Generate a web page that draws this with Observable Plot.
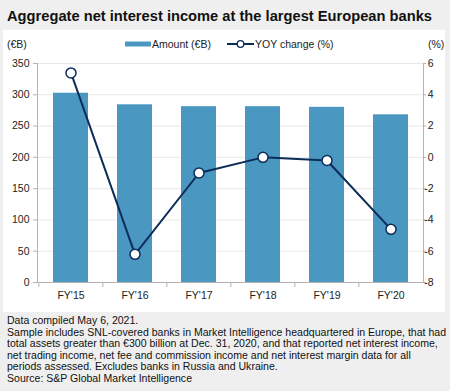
<!DOCTYPE html>
<html><head><meta charset="utf-8">
<script src="https://cdn.jsdelivr.net/npm/d3@7"></script>
<script src="https://cdn.jsdelivr.net/npm/@observablehq/plot@0.6"></script>
<style>
body{margin:0;background:#efefef;width:450px;height:391px;overflow:hidden;font-family:"Liberation Sans",Arial,sans-serif;position:relative}
#title{position:absolute;left:7px;top:8px;font-weight:bold;font-size:15px;line-height:15px;white-space:nowrap;color:#111;transform-origin:0 0}
#panel{position:absolute;left:3px;top:30px;width:442px;height:282px;background:#fff}
.lg{position:absolute;font-size:10.5px;line-height:12px;white-space:nowrap;color:#222}
#notes{position:absolute;left:7px;top:315px;font-size:10.5px;line-height:11.5px;color:#111}
#notes div{white-space:nowrap;transform-origin:0 0}
#chart{position:absolute;left:0;top:0}
</style></head><body>
<div id="title">Aggregate net interest income at the largest European banks</div>
<div id="panel">
  <div id="chart"></div>
  <div class="lg" style="left:4px;top:8px">(€B)</div>
  <div class="lg" style="left:122px;top:8px"><svg width="27" height="12" style="vertical-align:top"><rect x="0" y="3.5" width="26" height="5" fill="#4a97c2"></rect></svg>Amount (€B)</div>
  <div class="lg" style="left:224px;top:8px"><svg width="28" height="12" style="vertical-align:top"><line x1="0" x2="27" y1="6" y2="6" stroke="#0c2c5a" stroke-width="2"></line><circle cx="13.5" cy="6" r="3.3" fill="#fff" stroke="#0c2c5a" stroke-width="1.3"></circle></svg>YOY change (%)</div>
  <div class="lg" style="left:425px;top:8px">(%)</div>
</div>
<div id="notes">
  <div>Data compiled May 6, 2021.</div>
  <div id="wide">Sample includes SNL-covered banks in Market Intelligence headquartered in Europe, that had</div>
  <div>total assets greater than €300 billion at Dec. 31, 2020, and that reported net interest income,</div>
  <div>net trading income, net fee and commission income and net interest margin data for all</div>
  <div>periods assessed. Excludes banks in Russia and Ukraine.</div>
  <div>Source: S&amp;P Global Market Intelligence</div>
</div>
<script>
const years = ["FY'15","FY'16","FY'17","FY'18","FY'19","FY'20"];
const amount = [302.5, 284, 281, 281, 280, 268];
const yoy = [5.4, -6.2, -1.0, 0.0, -0.2, -4.6];
const leftTicks = [0, 50, 100, 150, 200, 250, 300, 350];
const rightTicks = [-8, -6, -4, -2, 0, 2, 4, 6];

const rows = years.map((y, i) => ({year: y, amount: amount[i], yoy: yoy[i]}));
const yoyToY = d3.scaleLinear([-8, 6], [0, 350]);
const W = 442, ML = 34, MR = 22;
const step = (W - ML - MR) / years.length;
const axisColor = "#b3b3b3";

const chart = Plot.plot({
  width: W, height: 282,
  marginLeft: ML, marginRight: MR, marginTop: 33, marginBottom: 30,
  style: {fontFamily: '"Liberation Sans", Arial, sans-serif', fontSize: "10.5px", color: "#222", background: "transparent"},
  x: {domain: years, paddingInner: 0.456, paddingOuter: 0.228, label: null},
  y: {domain: [0, 350], label: null},
  marks: [
    Plot.gridY(leftTicks, {stroke: "#e8e8e8", strokeOpacity: 1}),
    Plot.barY(rows, {x: "year", y: "amount", fill: "#4a97c2"}),
    Plot.ruleY([0], {stroke: axisColor}),
    Plot.frame({anchor: "left", stroke: axisColor}),
    Plot.frame({anchor: "right", stroke: axisColor}),
    Plot.axisY(leftTicks, {anchor: "left", tickSize: 4, tickPadding: 4, stroke: axisColor, label: null}),
    Plot.axisY(rightTicks.map(v => yoyToY(v)), {anchor: "right", tickSize: 2, tickPadding: 8, textAnchor: "end", stroke: axisColor,
      tickFormat: d => String(Math.round(yoyToY.invert(d))), label: null}),
    Plot.axisX(years, {tickSize: 5, dx: -step / 2, tickFormat: () => "", stroke: axisColor, label: null}),
    Plot.axisX(years, {tickSize: 0, tickPadding: 9, label: null}),
    Plot.line(rows, {x: "year", y: d => yoyToY(d.yoy), stroke: "#0c2c5a", strokeWidth: 2}),
    Plot.dot(rows, {x: "year", y: d => yoyToY(d.yoy), r: 5, fill: "white", stroke: "#0c2c5a", strokeWidth: 1.5})
  ]
});
document.getElementById("chart").append(chart);

// fit text widths to the reference layout
function fit(el, target) {
  const w = el.getBoundingClientRect().width;
  if (w > 0) el.style.transform = `scaleX(${target / w})`;
}
fit(document.getElementById("title"), 425);
const wide = document.getElementById("wide");
const ww = wide.getBoundingClientRect().width;
const k = 439 / ww;
document.querySelectorAll("#notes div").forEach(d => d.style.transform = `scaleX(${k})`);
</script>
</body></html>
